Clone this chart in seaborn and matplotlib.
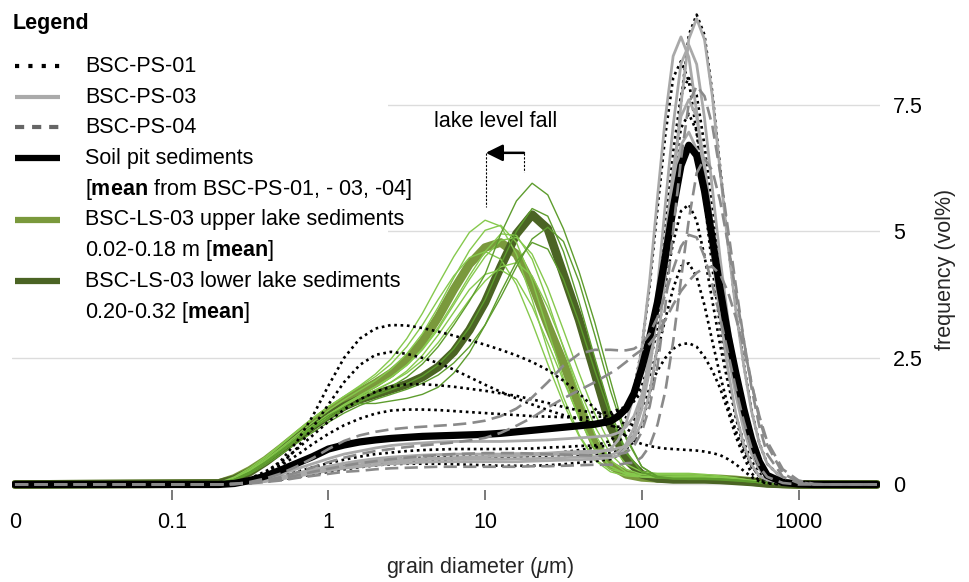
import numpy as np
import pandas as pd
import matplotlib
matplotlib.use("Agg")
import matplotlib.pyplot as plt
import seaborn as sns
from matplotlib.lines import Line2D
from matplotlib.patches import Rectangle

# ---------------- data ----------------
# grain-diameter grids, as log10(diameter / um)
soil_log_d = ([-2.0] + [round(v, 2) for v in np.arange(-0.7, 1.81, 0.1)]
              + [round(v, 2) for v in np.arange(1.85, 2.81, 0.05)]
              + [2.9, 3.0, 3.1, 3.2, 3.5])
lake_log_d = [-2.0] + [round(v, 2) for v in np.arange(-0.7, 3.01, 0.1)] + [3.5]

# BSC-PS-01 (dotted)
ps01 = {
    "p1": [0, 0, 0.02, 0.09, 0.22, 0.48, 0.85, 1.35, 1.95, 2.5, 2.88, 3.08, 3.15, 3.14, 3.09, 3.02, 2.94, 2.85, 2.76, 2.66, 2.55, 2.42, 2.26, 2.05, 1.8, 1.5, 1.2,
           1.08, 0.95, 0.86, 0.8, 0.76, 0.73, 0.71, 0.7, 0.69, 0.68, 0.67, 0.65, 0.62, 0.58, 0.5, 0.4, 0.27, 0.15, 0.06, 0.02, 0, 0, 0, 0, 0],
    "p2": [0, 0, 0.02, 0.08, 0.2, 0.4, 0.72, 1.12, 1.58, 2.02, 2.36, 2.56, 2.62, 2.58, 2.5, 2.4, 2.27, 2.12, 1.97, 1.83, 1.7, 1.58, 1.47, 1.37, 1.29, 1.22, 1.16,
           1.14, 1.15, 1.25, 1.5, 1.9, 2.25, 2.5, 2.68, 2.77, 2.79, 2.72, 2.52, 2.25, 1.9, 1.45, 0.95, 0.55, 0.22, 0.08, 0.03, 0.01, 0, 0, 0, 0],
    "p3": [0, 0, 0.03, 0.12, 0.26, 0.45, 0.7, 0.97, 1.24, 1.48, 1.68, 1.83, 1.93, 1.98, 1.98, 1.96, 1.93, 1.89, 1.85, 1.8, 1.75, 1.68, 1.61, 1.53, 1.46, 1.42, 1.42,
           1.48, 1.54, 1.64, 1.83, 2.16, 2.64, 3.27, 3.87, 4.31, 4.37, 4.1, 3.54, 2.83, 2.15, 1.55, 1.06, 0.65, 0.35, 0.17, 0.08, 0.02, 0, 0, 0, 0],
    "p4": [0, 0, 0.03, 0.1, 0.22, 0.38, 0.58, 0.8, 1.0, 1.17, 1.3, 1.4, 1.46, 1.48, 1.48, 1.47, 1.45, 1.43, 1.41, 1.39, 1.37, 1.35, 1.34, 1.33, 1.32, 1.33, 1.36,
           1.45, 1.53, 1.66, 1.95, 2.4, 3.08, 3.95, 4.78, 5.4, 5.53, 5.21, 4.51, 3.63, 2.75, 2.0, 1.36, 0.84, 0.46, 0.23, 0.1, 0.02, 0, 0, 0, 0],
    "p5": [0, 0, 0.01, 0.04, 0.08, 0.13, 0.2, 0.26, 0.33, 0.39, 0.43, 0.47, 0.5, 0.52, 0.53, 0.54, 0.55, 0.55, 0.55, 0.55, 0.56, 0.56, 0.57, 0.58, 0.59, 0.6, 0.62,
           0.67, 0.7, 0.85, 1.19, 1.78, 2.73, 4.13, 5.89, 7.57, 8.88, 9.28, 8.88, 7.74, 6.26, 4.77, 3.49, 2.39, 1.47, 0.82, 0.41, 0.1, 0.02, 0, 0, 0],
    "p6": [0, 0, 0.01, 0.03, 0.06, 0.11, 0.16, 0.22, 0.27, 0.32, 0.35, 0.38, 0.4, 0.41, 0.41, 0.41, 0.4, 0.39, 0.38, 0.37, 0.37, 0.37, 0.38, 0.4, 0.43, 0.46, 0.5,
           0.58, 0.74, 1.02, 1.55, 2.37, 3.59, 5.11, 6.56, 7.69, 8.04, 7.69, 6.7, 5.42, 4.13, 3.02, 2.06, 1.27, 0.71, 0.35, 0.16, 0.05, 0.01, 0, 0, 0],
    "p7": [0, 0, 0.01, 0.05, 0.1, 0.17, 0.25, 0.34, 0.42, 0.49, 0.55, 0.6, 0.63, 0.66, 0.68, 0.69, 0.7, 0.7, 0.7, 0.7, 0.71, 0.71, 0.73, 0.74, 0.76, 0.77, 0.86,
           1.02, 1.33, 1.86, 2.7, 3.92, 5.45, 6.9, 8.03, 8.36, 7.97, 6.95, 5.62, 4.29, 3.12, 2.14, 1.32, 0.74, 0.37, 0.16, 0.08, 0.03, 0, 0, 0, 0],
    "p8": [0, 0, 0.01, 0.03, 0.06, 0.1, 0.15, 0.2, 0.25, 0.3, 0.34, 0.38, 0.41, 0.44, 0.46, 0.48, 0.5, 0.51, 0.52, 0.53, 0.55, 0.57, 0.6, 0.64, 0.68, 0.73, 0.78,
           0.85, 0.98, 1.23, 1.68, 2.4, 3.45, 4.79, 6.05, 7.04, 7.32, 6.98, 6.09, 4.91, 3.74, 2.73, 1.87, 1.14, 0.64, 0.32, 0.14, 0.04, 0.01, 0, 0, 0],
}
# BSC-PS-03 (solid grey)
ps03 = {
    "g1": [0, 0, 0.01, 0.04, 0.08, 0.14, 0.22, 0.29, 0.36, 0.42, 0.47, 0.51, 0.54, 0.56, 0.58, 0.59, 0.6, 0.6, 0.6, 0.6, 0.61, 0.61, 0.62, 0.64, 0.65, 0.66, 0.67,
           0.72, 0.75, 0.9, 1.23, 1.81, 2.74, 4.12, 5.86, 7.51, 8.8, 9.2, 8.79, 7.67, 6.19, 4.73, 3.45, 2.36, 1.45, 0.81, 0.41, 0.1, 0.02, 0, 0, 0],
    "g2": [0, 0, 0.01, 0.04, 0.09, 0.15, 0.22, 0.29, 0.35, 0.4, 0.44, 0.47, 0.49, 0.5, 0.51, 0.52, 0.53, 0.54, 0.55, 0.56, 0.57, 0.58, 0.59, 0.6, 0.61, 0.62, 0.7,
           0.88, 1.21, 1.78, 2.69, 4.02, 5.67, 7.24, 8.46, 8.84, 8.44, 7.36, 5.95, 4.55, 3.32, 2.26, 1.4, 0.79, 0.39, 0.17, 0.09, 0.02, 0, 0, 0, 0],
    "g3": [0, 0, 0.01, 0.04, 0.07, 0.12, 0.18, 0.24, 0.3, 0.35, 0.39, 0.43, 0.45, 0.47, 0.49, 0.5, 0.5, 0.5, 0.5, 0.5, 0.51, 0.51, 0.52, 0.53, 0.54, 0.55, 0.58,
           0.64, 0.8, 1.12, 1.69, 2.58, 3.88, 5.53, 7.09, 8.31, 8.68, 8.3, 7.24, 5.85, 4.46, 3.26, 2.23, 1.38, 0.77, 0.38, 0.17, 0.04, 0.01, 0, 0, 0],
    "g4": [0, 0, 0.01, 0.03, 0.06, 0.11, 0.16, 0.22, 0.27, 0.32, 0.35, 0.38, 0.41, 0.42, 0.44, 0.45, 0.45, 0.45, 0.45, 0.45, 0.45, 0.46, 0.47, 0.48, 0.49, 0.5, 0.53,
           0.57, 0.72, 0.99, 1.49, 2.26, 3.41, 4.84, 6.21, 7.27, 7.6, 7.26, 6.33, 5.12, 3.9, 2.86, 1.95, 1.2, 0.67, 0.33, 0.15, 0.04, 0.01, 0, 0, 0],
    "g5": [0, 0, 0.02, 0.06, 0.12, 0.2, 0.31, 0.41, 0.51, 0.6, 0.66, 0.72, 0.77, 0.8, 0.82, 0.84, 0.85, 0.85, 0.85, 0.85, 0.86, 0.87, 0.88, 0.9, 0.92, 0.94, 0.97,
           1.02, 1.14, 1.35, 1.77, 2.43, 3.41, 4.64, 5.81, 6.71, 6.96, 6.62, 5.75, 4.64, 3.53, 2.58, 1.76, 1.09, 0.6, 0.3, 0.13, 0.03, 0, 0, 0, 0],
}
# BSC-PS-04 (dashed grey)
ps04 = {
    "d1": [0, 0, 0.01, 0.05, 0.12, 0.22, 0.36, 0.52, 0.7, 0.86, 0.97, 1.04, 1.09, 1.12, 1.14, 1.16, 1.18, 1.21, 1.26, 1.35, 1.5, 1.72, 2.02, 2.35, 2.58, 2.66, 2.66,
           2.65, 2.65, 2.68, 2.78, 2.98, 3.3, 3.75, 4.25, 4.7, 4.93, 4.88, 4.5, 3.95, 3.3, 2.6, 1.9, 1.25, 0.72, 0.35, 0.15, 0.03, 0, 0, 0, 0],
    "d2": [0, 0, 0.01, 0.03, 0.08, 0.15, 0.24, 0.34, 0.44, 0.53, 0.6, 0.66, 0.7, 0.74, 0.77, 0.8, 0.83, 0.87, 0.92, 1.02, 1.16, 1.32, 1.52, 1.7, 1.86, 2.02, 2.2,
           2.3, 2.42, 2.55, 2.66, 2.78, 2.98, 3.25, 3.55, 3.82, 4.02, 4.18, 4.28, 4.3, 4.15, 3.8, 3.3, 2.7, 2.0, 1.35, 0.85, 0.3, 0.08, 0.01, 0, 0],
    "d3": [0, 0, 0.01, 0.03, 0.07, 0.12, 0.18, 0.25, 0.31, 0.37, 0.42, 0.46, 0.5, 0.53, 0.56, 0.58, 0.6, 0.61, 0.62, 0.62, 0.62, 0.61, 0.6, 0.59, 0.58, 0.57, 0.57,
           0.6, 0.63, 0.76, 1.04, 1.54, 2.34, 3.52, 5.01, 6.42, 7.53, 7.87, 7.67, 7.09, 6.16, 5.04, 3.93, 2.87, 1.91, 1.15, 0.6, 0.15, 0.03, 0, 0, 0],
    "d4": [0, 0, 0.01, 0.02, 0.05, 0.08, 0.13, 0.17, 0.21, 0.25, 0.27, 0.3, 0.32, 0.33, 0.34, 0.35, 0.35, 0.35, 0.35, 0.35, 0.35, 0.36, 0.36, 0.37, 0.38, 0.39, 0.39,
           0.39, 0.42, 0.43, 0.54, 0.76, 1.18, 1.84, 2.82, 4.05, 5.23, 6.15, 6.44, 6.2, 5.6, 4.75, 3.8, 2.85, 2.0, 1.3, 0.78, 0.22, 0.05, 0, 0, 0],
}
# soil pit mean (thick black)
soil_mean = [0, 0, 0.02, 0.08, 0.17, 0.29, 0.42, 0.55, 0.7, 0.78, 0.84, 0.88, 0.91, 0.93, 0.95, 0.96, 0.97, 0.98, 0.99, 1.01, 1.04, 1.07, 1.1, 1.13, 1.16, 1.19, 1.25,
             1.35, 1.5, 1.8, 2.3, 2.9, 3.6, 4.5, 5.45, 6.3, 6.7, 6.5, 5.8, 4.85, 3.85, 2.95, 2.2, 1.5, 0.9, 0.45, 0.18, 0.04, 0.01, 0, 0, 0]

# BSC-LS-03 upper lake sediments (0.02-0.18 m)
upper_lake = {
    "u1": [0, 0.02, 0.13, 0.3, 0.52, 0.78, 1.04, 1.3, 1.53, 1.74, 1.95, 2.18, 2.48, 2.88, 3.38, 3.95, 4.5, 4.98, 5.22, 5.1, 4.55, 3.65, 2.65, 1.72, 0.98, 0.5, 0.3, 0.22, 0.2, 0.2, 0.2, 0.19, 0.17, 0.15, 0.12, 0.08, 0.04, 0.01, 0, 0],
    "u2": [0, 0.02, 0.12, 0.28, 0.49, 0.73, 0.98, 1.23, 1.46, 1.67, 1.86, 2.05, 2.28, 2.58, 2.98, 3.5, 4.08, 4.62, 5.02, 5.12, 4.78, 4.02, 3.05, 2.1, 1.3, 0.7, 0.35, 0.2, 0.15, 0.13, 0.13, 0.13, 0.12, 0.11, 0.09, 0.06, 0.03, 0.01, 0, 0],
    "u3": [0, 0.01, 0.1, 0.25, 0.44, 0.67, 0.91, 1.15, 1.38, 1.58, 1.76, 1.93, 2.12, 2.36, 2.68, 3.1, 3.6, 4.12, 4.6, 4.95, 4.92, 4.45, 3.62, 2.7, 1.78, 1.0, 0.48, 0.24, 0.16, 0.14, 0.14, 0.14, 0.13, 0.12, 0.1, 0.07, 0.03, 0.01, 0, 0],
    "u4": [0, 0.02, 0.11, 0.26, 0.45, 0.68, 0.92, 1.16, 1.38, 1.57, 1.73, 1.87, 2.02, 2.2, 2.45, 2.8, 3.22, 3.65, 4.02, 4.3, 4.38, 4.12, 3.5, 2.72, 1.9, 1.15, 0.6, 0.3, 0.2, 0.17, 0.16, 0.16, 0.15, 0.13, 0.1, 0.07, 0.03, 0.01, 0, 0],
    "u5": [0, 0.02, 0.11, 0.27, 0.47, 0.7, 0.94, 1.17, 1.38, 1.56, 1.72, 1.86, 2.02, 2.24, 2.55, 2.95, 3.4, 3.85, 4.15, 4.24, 4.05, 3.52, 2.8, 2.05, 1.32, 0.72, 0.36, 0.2, 0.16, 0.16, 0.17, 0.17, 0.16, 0.14, 0.11, 0.07, 0.03, 0.01, 0, 0],
    "u6": [0, 0.03, 0.15, 0.33, 0.55, 0.8, 1.06, 1.31, 1.54, 1.74, 1.93, 2.13, 2.38, 2.72, 3.15, 3.65, 4.12, 4.48, 4.6, 4.45, 3.95, 3.2, 2.38, 1.6, 0.95, 0.48, 0.25, 0.17, 0.15, 0.15, 0.15, 0.15, 0.14, 0.12, 0.1, 0.06, 0.03, 0.01, 0, 0],
    "u7": [0, 0.01, 0.1, 0.24, 0.43, 0.65, 0.88, 1.12, 1.35, 1.56, 1.75, 1.93, 2.12, 2.35, 2.66, 3.06, 3.55, 4.05, 4.5, 4.82, 4.88, 4.55, 3.88, 3.05, 2.2, 1.4, 0.78, 0.4, 0.25, 0.22, 0.22, 0.22, 0.2, 0.17, 0.13, 0.08, 0.04, 0.01, 0, 0],
}
upper_mean = [0, 0.02, 0.12, 0.28, 0.48, 0.72, 0.97, 1.22, 1.45, 1.65, 1.83, 2.0, 2.2, 2.46, 2.82, 3.3, 3.85, 4.35, 4.68, 4.78, 4.55, 3.95, 3.15, 2.4, 1.55, 0.8, 0.38, 0.2, 0.14, 0.12, 0.12, 0.12, 0.12, 0.11, 0.09, 0.06, 0.03, 0.01, 0, 0]

# BSC-LS-03 lower lake sediments (0.20-0.32 m)
lower_lake = {
    "l1": [0, 0.02, 0.1, 0.24, 0.43, 0.65, 0.88, 1.1, 1.3, 1.48, 1.64, 1.78, 1.93, 2.12, 2.38, 2.72, 3.15, 3.62, 4.15, 4.95, 5.6, 5.95, 5.72, 5.05, 4.2, 3.2, 2.05, 0.95, 0.35, 0.15, 0.11, 0.1, 0.1, 0.09, 0.07, 0.05, 0.02, 0.01, 0, 0],
    "l2": [0, 0.02, 0.1, 0.24, 0.44, 0.66, 0.89, 1.11, 1.31, 1.49, 1.64, 1.76, 1.87, 1.99, 2.14, 2.36, 2.68, 3.1, 3.65, 4.35, 5.0, 5.45, 5.3, 4.6, 3.6, 2.5, 1.45, 0.65, 0.25, 0.13, 0.11, 0.11, 0.11, 0.1, 0.08, 0.05, 0.02, 0.01, 0, 0],
    "l3": [0, 0.02, 0.1, 0.25, 0.45, 0.68, 0.92, 1.15, 1.36, 1.52, 1.6, 1.6, 1.65, 1.7, 1.78, 1.92, 2.2, 2.6, 3.15, 3.8, 4.4, 4.78, 4.65, 4.05, 3.2, 2.25, 1.35, 0.62, 0.25, 0.14, 0.12, 0.12, 0.12, 0.11, 0.09, 0.06, 0.03, 0.01, 0, 0],
    "l4": [0, 0.01, 0.08, 0.21, 0.39, 0.6, 0.82, 1.03, 1.23, 1.41, 1.56, 1.68, 1.78, 1.88, 2.0, 2.16, 2.4, 2.72, 3.15, 3.7, 4.3, 4.85, 5.08, 4.8, 4.0, 2.95, 1.85, 0.9, 0.35, 0.16, 0.12, 0.12, 0.12, 0.11, 0.09, 0.06, 0.03, 0.01, 0, 0],
}
lower_mean = [0, 0.02, 0.1, 0.25, 0.45, 0.68, 0.92, 1.15, 1.36, 1.54, 1.68, 1.78, 1.88, 1.98, 2.12, 2.32, 2.62, 3.05, 3.6, 4.3, 4.95, 5.33, 5.05, 4.15, 3.25, 2.2, 1.15, 0.5, 0.2, 0.12, 0.1, 0.1, 0.1, 0.09, 0.07, 0.05, 0.02, 0.01, 0, 0]

x_ticks = [0.01, 0.1, 1, 10, 100, 1000]
x_tick_labels = ["0", "0.1", "1", "10", "100", "1000"]
y_ticks = [0, 2.5, 5, 7.5]
y_tick_labels = ["0", "2.5", "5", "7.5"]

legend_labels = [
    "BSC-PS-01", "BSC-PS-03", "BSC-PS-04", "Soil pit sediments",
    r"[$\mathbf{mean}$ from BSC-PS-01, - 03, -04]",
    "BSC-LS-03 upper lake sediments", r"0.02-0.18 m [$\mathbf{mean}$]",
    "BSC-LS-03 lower lake sediments", r"0.20-0.32 [$\mathbf{mean}$]",
]

# ---------------- style ----------------
sns.set_theme(style="white")
plt.rcParams["font.family"] = ["Liberation Sans", "DejaVu Sans"]
plt.rcParams["mathtext.fontset"] = "custom"
plt.rcParams["mathtext.rm"] = "Liberation Sans"
plt.rcParams["mathtext.bf"] = "Liberation Sans:bold"
plt.rcParams["mathtext.it"] = "Liberation Sans:italic"
plt.rcParams["text.color"] = "black"
FS = 15.5

W, H = 969, 582
fig = plt.figure(figsize=(W / 100, H / 100), dpi=100)
ax = fig.add_axes([12 / W, (H - 490) / H, 868 / W, 485 / H])
ax.set_xscale("log")

C_UP_THIN = "#86c94d"
C_LO_THIN = "#5e9d2e"
C_UP_MEAN = "#7a993c"
C_LO_MEAN = "#4b6424"
C_GREY = "#a9a9a9"
C_DASH = "#8a8a8a"
DOT = (0, (1, 1.4))
DASH = (0, (5, 2.4))


def long_df(curves, grid):
    rows = []
    for name, vals in curves.items():
        assert len(vals) == len(grid), (name, len(vals), len(grid))
        for g, v in zip(grid, vals):
            rows.append((name, 10 ** g, v))
    return pd.DataFrame(rows, columns=["sample", "diameter", "freq"])


def draw(curves, grid, **kw):
    df = long_df(curves, grid)
    sns.lineplot(data=df, x="diameter", y="freq", units="sample", estimator=None,
                 sort=False, legend=False, ax=ax, **kw)


draw({"um": upper_mean}, lake_log_d, color=C_UP_MEAN, lw=6.2, zorder=2.0,
     solid_capstyle="round", solid_joinstyle="round")
draw({"lm": lower_mean}, lake_log_d, color=C_LO_MEAN, lw=6.2, zorder=2.1,
     solid_capstyle="round", solid_joinstyle="round")
draw(upper_lake, lake_log_d, color=C_UP_THIN, lw=1.0, zorder=2.2)
draw(lower_lake, lake_log_d, color=C_LO_THIN, lw=1.0, zorder=2.3)
draw(ps01, soil_log_d, color="black", lw=1.9, ls=DOT, zorder=3)
draw(ps03, soil_log_d, color=C_GREY, lw=2.0, zorder=3.1)
draw({"sm": soil_mean}, soil_log_d, color="black", lw=5.2, zorder=3.2,
     solid_capstyle="round", solid_joinstyle="round")
draw(ps04, soil_log_d, color=C_DASH, lw=1.9, ls=DASH, zorder=3.3)

# axes
x_lo, x_hi = 10 ** -2.019, 10 ** 3.52
ax.set_xlim(x_lo, x_hi)
ax.set_ylim(-0.109, 9.47)
for s in ax.spines.values():
    s.set_visible(False)
ax.set_xticks(x_ticks)
ax.set_xticklabels(x_tick_labels)
ax.xaxis.set_minor_locator(matplotlib.ticker.NullLocator())
ax.tick_params(axis="x", bottom=True, length=7.2, width=1.1, color="#555555",
               pad=9, labelsize=FS, labelcolor="black")
ax.xaxis.get_major_ticks()[0].tick1line.set_visible(False)
ax.yaxis.tick_right()
ax.set_yticks(y_ticks)
ax.set_yticklabels(y_tick_labels)
ax.tick_params(axis="y", length=0, pad=9.5, labelsize=FS, labelcolor="black")
ax.yaxis.grid(True, color="#dcdcdc", lw=1.0)
ax.xaxis.grid(False)
ax.set_axisbelow(True)

# legend background box (hides grid lines behind the legend)
ax.add_patch(Rectangle((x_lo, 3.7), 2.4 - x_lo, 6.0, facecolor="white",
                       edgecolor="none", zorder=1))

ax.set_xlabel(r"grain diameter ($\mu$m)", fontsize=FS)
ax.xaxis.set_label_coords((480 - 12) / 868, (490 - 568) / 485)
ax.xaxis.label.set_va("center")
ax.yaxis.set_label_position("right")
ax.set_ylabel("frequency (vol%)", fontsize=FS, rotation=90)
ax.yaxis.set_label_coords((945 - 12) / 868, (490 - 269) / 485)
ax.yaxis.label.set_va("center")
ax.yaxis.label.set_ha("center")

# annotation: lake level fall
ax.text(11.6, 7.16, "lake level fall", ha="center", va="center", fontsize=FS)
ax.annotate("", xy=(10.1, 6.55), xytext=(17.7, 6.55),
            arrowprops=dict(arrowstyle="-|>,head_length=0.85,head_width=0.42",
                            lw=1.8, color="black", shrinkA=0, shrinkB=0))
ax.plot([10.1, 10.1], [6.55, 5.48], color="black", lw=0.8, ls=(0, (2, 1.4)), zorder=4)
ax.plot([17.7, 17.7], [6.55, 6.17], color="black", lw=0.8, ls=(0, (2, 1.4)), zorder=4)

# legend (key glyphs + labels, laid out on fixed rows)
keys = [
    dict(color="black", lw=3, ls=(0, (1, 2.2))),
    dict(color="#aaaaaa", lw=3),
    dict(color="#666666", lw=3, ls=(0, (2.2, 1.9))),
    dict(color="black", lw=4.5),
    None,
    dict(color=C_UP_MEAN, lw=4.5),
    None,
    dict(color=C_LO_MEAN, lw=4.5),
    None,
]
fig.text(12.5 / W, 1 - 29.5 / H, "Legend", fontsize=FS, fontweight="bold",
         ha="left", va="baseline")
for i, (lab, key) in enumerate(zip(legend_labels, keys)):
    base = 72 + 30.7 * i
    fig.text(85 / W, 1 - base / H, lab, fontsize=FS, ha="left", va="baseline")
    if key is not None:
        yk = 1 - (base - 6) / H
        fig.add_artist(Line2D([15 / W, 60 / W], [yk, yk], transform=fig.transFigure,
                              solid_capstyle="butt", dash_capstyle="butt", **key))

fig.savefig("out.png", dpi=100)
